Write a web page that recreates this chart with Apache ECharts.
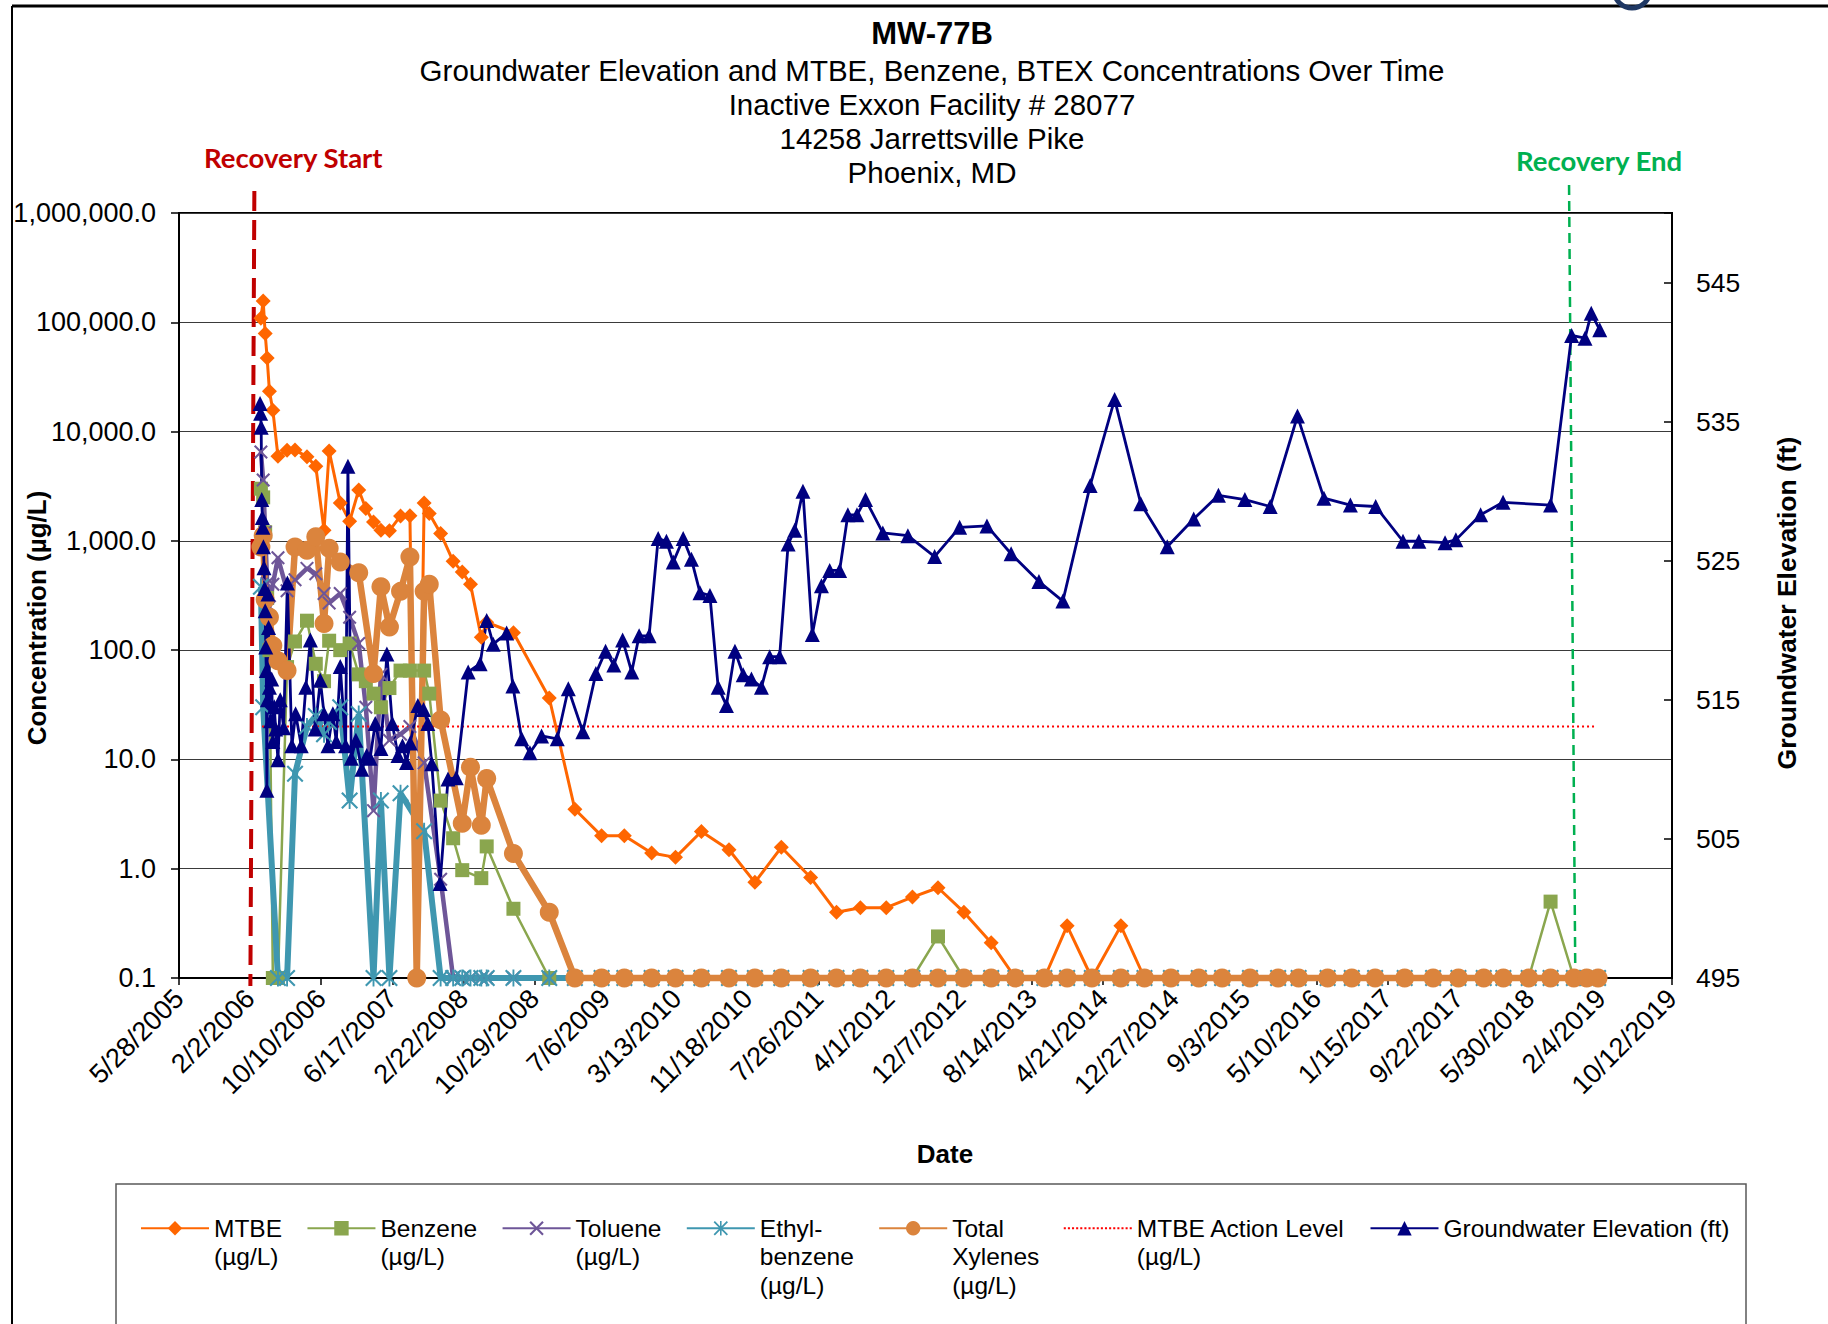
<!DOCTYPE html>
<html>
<head>
<meta charset="utf-8">
<title>MW-77B</title>
<script src="https://cdn.jsdelivr.net/npm/echarts@6/dist/echarts.min.js"></script>
<style>
html,body{margin:0;padding:0;background:#ffffff;}
#chart{width:1828px;height:1324px;}
</style>
</head>
<body>
<div id="chart"></div>
<script>
// ---------------- DATA (x values are Excel date serials) ----------------
const sampleDates = [
  38788, 38796, 38803, 38810, 38818, 38830, 38848, 38880, 38908, 38950,
  38981, 39010, 39028, 39067, 39100, 39132, 39157, 39184, 39210, 39240,
  39279, 39312, 39336, 39362, 39380, 39420, 39464, 39496, 39525, 39563,
  39582,
  39676, 39802, 39892, 39986, 40066, 40162, 40246, 40337, 40434, 40525,
  40618, 40721, 40812, 40896, 40987, 41079, 41169, 41260, 41356, 41441,
  41543, 41623, 41710, 41812, 41895, 41988, 42086, 42168, 42266, 42365,
  42437, 42539, 42624, 42706, 42810, 42910, 42999, 43088, 43157, 43246,
  43323, 43405, 43450, 43490
];
const mtbe = [
  109000, 157000, 79000, 47000, 23400, 15700, 5940, 6750, 6800, 5870,
  4820, 1250, 6640, 2220, 1510, 2920, 1980, 1490, 1250, 1240,
  1690, 1700, 0.1, 2220, 1780, 1170, 650, 520, 400, 131,
  180,
  144, 36.5, 3.5, 2.0, 2.0, 1.39, 1.27, 2.19, 1.49, 0.75,
  1.57, 0.83, 0.40, 0.44, 0.44, 0.55, 0.67, 0.40, 0.21, 0.1,
  0.1, 0.3, 0.1, 0.3, 0.1, 0.1, 0.1, 0.1, 0.1, 0.1,
  0.1, 0.1, 0.1, 0.1, 0.1, 0.1, 0.1, 0.1, 0.1, 0.1,
  0.1, 0.1, 0.1, 0.1
];
const benzene = [
  3000, 2500, 1200, 300, 100, 0.1, 0.1, 70, 120, 186,
  75, 52, 122, 100, 115, 60, 52, 40, 30, 45,
  65, 65, null, 65, 40, 4.2, 1.9, 0.97, null, 0.82,
  1.6,
  0.43, 0.1, 0.1, 0.1, 0.1, 0.1, 0.1, 0.1, 0.1, 0.1,
  0.1, 0.1, 0.1, 0.1, 0.1, 0.1, 0.24, 0.1, 0.1, 0.1,
  0.1, 0.1, 0.1, 0.1, 0.1, 0.1, 0.1, 0.1, 0.1, 0.1,
  0.1, 0.1, 0.1, 0.1, 0.1, 0.1, 0.1, 0.1, 0.1, 0.1,
  0.5, 0.1, 0.1, 0.1
];
const toluene = [
  6500, 3600, 1200, 410, 250, 400, 700, 350, 440, 560,
  500, 330, 270, 330, 200, 115, 30, 3.4, 60, 15,
  17, 20, null, 9.3, null, 0.8, 0.1, 0.1, 0.1, 0.1,
  0.1,
  0.1, 0.1, 0.1, 0.1, 0.1, 0.1, 0.1, 0.1, 0.1, 0.1,
  0.1, 0.1, 0.1, 0.1, 0.1, 0.1, 0.1, 0.1, 0.1, 0.1,
  0.1, 0.1, 0.1, 0.1, 0.1, 0.1, 0.1, 0.1, 0.1, 0.1,
  0.1, 0.1, 0.1, 0.1, 0.1, 0.1, 0.1, 0.1, 0.1, 0.1,
  0.1, 0.1, 0.1, 0.1
];
const ethylbenzene = [
  380, 30, null, null, null, null, 0.1, 0.1, 7.4, 20,
  25, 17, 22, 30, 4.2, 26, null, 0.1, 4.2, 0.1,
  4.9, null, null, 2.2, null, 0.1, 0.1, 0.1, 0.1, 0.1,
  0.1,
  0.1, 0.1, 0.1, 0.1, 0.1, 0.1, 0.1, 0.1, 0.1, 0.1,
  0.1, 0.1, 0.1, 0.1, 0.1, 0.1, 0.1, 0.1, 0.1, 0.1,
  0.1, 0.1, 0.1, 0.1, 0.1, 0.1, 0.1, 0.1, 0.1, 0.1,
  0.1, 0.1, 0.1, 0.1, 0.1, 0.1, 0.1, 0.1, 0.1, 0.1,
  0.1, 0.1, 0.1, 0.1
];
const totalXylenes = [
  880, 1120, 290, null, 200, 110, 80, 65, 880, 820,
  1090, 175, 855, 640, null, 510, null, 61, 380, 163,
  345, 713, 0.1, 345, 400, 23, null, 2.6, 8.5, 2.5,
  6.7,
  1.38, 0.40, 0.1, 0.1, 0.1, 0.1, 0.1, 0.1, 0.1, 0.1,
  0.1, 0.1, 0.1, 0.1, 0.1, 0.1, 0.1, 0.1, 0.1, 0.1,
  0.1, 0.1, 0.1, 0.1, 0.1, 0.1, 0.1, 0.1, 0.1, 0.1,
  0.1, 0.1, 0.1, 0.1, 0.1, 0.1, 0.1, 0.1, 0.1, 0.1,
  0.1, 0.1, 0.1, 0.1
];
const gwDates = [
  38785, 38787, 38789, 38791, 38793, 38795, 38797, 38799, 38801, 38803,
  38805, 38807, 38809, 38811, 38813, 38815, 38818, 38822, 38826, 38830,
  38835, 38840, 38848, 38856, 38868, 38881, 38897, 38910, 38930, 38946,
  38962, 38979, 38997, 39010, 39024, 39041, 39053, 39067, 39086, 39094,
  39106, 39122, 39143, 39160, 39172, 39190, 39210, 39231, 39250, 39270,
  39286, 39300, 39313, 39340, 39360, 39375, 39389, 39418, 39446, 39475,
  39517, 39559, 39582, 39605, 39652, 39674, 39705, 39734, 39775, 39830,
  39869, 39920, 39966, 40000, 40029, 40060, 40092, 40118, 40153, 40185,
  40214, 40238, 40273, 40302, 40332, 40367, 40396, 40425, 40455, 40484,
  40513, 40548, 40577, 40612, 40642, 40665, 40694, 40727, 40759, 40788,
  40823, 40852, 40884, 40914, 40975, 41063, 41157, 41245, 41341, 41426,
  41524, 41608, 41704, 41790, 41882, 41975, 42068, 42155, 42248, 42337,
  42433, 42526, 42619, 42708, 42804, 42860, 42952, 42990, 43077, 43156,
  43323, 43397, 43444, 43466, 43496
];
const gwElevation = [
  536.3, 535.6, 534.6, 529.4, 528.1, 527.4, 526.0, 524.5, 523.0, 521.4,
  518.8, 517.1, 508.5, 515.0, 522.6, 520.2, 515.9, 513.5, 516.5, 512.0,
  514.5, 512.9, 510.7, 515.0, 513.0, 523.4, 511.7, 514.0, 511.7, 515.9,
  519.3, 512.9, 516.4, 514.0, 511.7, 514.0, 512.0, 517.4, 511.7, 531.8,
  510.8, 512.1, 510.0, 511.0, 510.8, 513.3, 511.5, 518.3, 513.3, 511.0,
  511.7, 510.5, 511.9, 514.6, 514.3, 513.3, 510.4, 501.8, 509.3, 509.4,
  517.0, 517.6, 520.7, 519.0, 519.8, 516.0, 512.2, 511.2, 512.4, 512.2,
  515.8, 512.7, 516.9, 518.5, 517.5, 519.3, 517.0, 519.6, 519.6, 526.6,
  526.4, 524.9, 526.6, 525.1, 522.7, 522.5, 515.9, 514.6, 518.5, 516.8,
  516.5, 515.9, 518.1, 518.1, 526.2, 527.2, 530.0, 519.7, 523.2, 524.3,
  524.3, 528.3, 528.3, 529.4, 527.0, 526.8, 525.3, 527.4, 527.5, 525.5,
  523.5, 522.1, 530.4, 536.6, 529.1, 526.0, 528.0, 529.7, 529.4, 528.9,
  535.4, 529.5, 529.0, 528.9, 526.4, 526.4, 526.3, 526.5, 528.3, 529.2,
  529.0, 541.2, 541.0, 542.8, 541.6
];
const actionLevelDates = [38792, 43481];
const actionLevel = [20, 20];
const recoveryStartDates = [38765, 38751];   // top, bottom of the drawn marker line
const recoveryEndDates = [43388, 43410];
const xAxisMin = 38500, xAxisMax = 43750, xAxisStep = 250;   // 5/28/2005 .. 10/12/2019
const concMin = 0.1, concMax = 1000000;
const elevMin = 495, elevMax = 550, elevStep = 10;
const seriesNames = ['MTBE (µg/L)', 'Benzene (µg/L)', 'Toluene (µg/L)', 'Ethyl-benzene (µg/L)',
  'Total Xylenes (µg/L)', 'MTBE Action Level (µg/L)', 'Groundwater Elevation (ft)'];
const legendLines = [['MTBE', '(µg/L)'], ['Benzene', '(µg/L)'], ['Toluene', '(µg/L)'], ['Ethyl-', 'benzene', '(µg/L)'],
  ['Total', 'Xylenes', '(µg/L)'], ['MTBE Action Level', '(µg/L)'], ['Groundwater Elevation (ft)']];
const titleLines = ['Groundwater Elevation and MTBE, Benzene, BTEX Concentrations Over Time',
  'Inactive Exxon Facility # 28077', '14258 Jarrettsville Pike', 'Phoenix, MD'];

// ---------------- helpers ----------------
const FONT = '"Liberation Sans", Arial, Helvetica, sans-serif';
function serialToLabel(s) {
  const d = new Date(Date.UTC(1899, 11, 30) + Math.round(s) * 86400000);
  return (d.getUTCMonth() + 1) + '/' + d.getUTCDate() + '/' + d.getUTCFullYear();
}
function fmtConc(v) {
  const r = Math.round(v * 10) / 10;
  const parts = r.toFixed(1).split('.');
  parts[0] = parts[0].replace(/\B(?=(\d{3})+(?!\d))/g, ',');
  return parts.join('.');
}
function toPairs(dates, vals) {
  return dates.map((d, i) => [d, (vals[i] === null || vals[i] === undefined) ? '-' : vals[i]]);
}
const xPath = 'path://M2.12 0L10 7.88L17.88 0L20 2.12L12.12 10L20 17.88L17.88 20L10 12.12L2.12 20L0 17.88L7.88 10L0 2.12Z';
const starPath = 'path://M8.9 0H11.1V20H8.9Z M1.77 0L10 8.23L18.23 0L20 1.77L11.77 10L20 18.23L18.23 20L10 11.77L1.77 20L0 18.23L8.23 10L0 1.77Z';
let dotted = 'path://';
for (let i = 0; i < 68; i += 4) dotted += 'M' + i + ' 0h2v2h-2z';

// Legend text: 3 content lines, preceded by 2 blank lines so the first line sits level with the icon
const legendText = {};
seriesNames.forEach((n, i) => {
  const lines = legendLines[i].slice();
  while (lines.length < 3) lines.push(' ');
  legendText[n] = [' ', ' '].concat(lines).join('\n');
});

function lineSeries(idx, dates, vals, color, width, symbol, size, yAxisIndex) {
  return {
    name: seriesNames[idx], type: 'line', yAxisIndex: yAxisIndex || 0,
    data: toPairs(dates, vals), connectNulls: true, clip: false,
    symbol: symbol, symbolSize: size, showSymbol: symbol !== 'none',
    itemStyle: { color: color, borderWidth: 0 },
    lineStyle: { color: color, width: width },
    emphasis: { disabled: true }, silent: true
  };
}

const chart = echarts.init(document.getElementById('chart'), null, { renderer: 'svg', width: 1828, height: 1324 });

const option = {
  backgroundColor: '#ffffff',
  animation: false,
  grid: { left: 179, right: 156, top: 213, bottom: 346, show: true, borderColor: '#000', borderWidth: 2,
          backgroundColor: 'transparent', containLabel: false, outerBoundsMode: 'none' },
  xAxis: {
    type: 'value', min: xAxisMin, max: xAxisMax, interval: xAxisStep,
    axisLine: { show: true, onZero: false, lineStyle: { color: '#000', width: 2 } },
    axisTick: { show: true, inside: false, length: 7, lineStyle: { color: '#000', width: 1.5 } },
    splitLine: { show: false },
    axisLabel: { rotate: 45, margin: 16, fontSize: 27, fontFamily: FONT, color: '#000',
                 formatter: serialToLabel, showMinLabel: true, showMaxLabel: true, hideOverlap: false }
  },
  yAxis: [
    {
      type: 'log', logBase: 10, min: concMin, max: concMax, splitNumber: 7, position: 'left',
      axisLine: { show: true, lineStyle: { color: '#000', width: 2 } },
      axisTick: { show: true, inside: false, length: 8, lineStyle: { color: '#000', width: 1.5 } },
      splitLine: { show: true, lineStyle: { color: '#3a3a3a', width: 1.2 } },
      minorTick: { show: false }, minorSplitLine: { show: false },
      axisLabel: { margin: 23, fontSize: 27, fontFamily: FONT, color: '#000', formatter: fmtConc }
    },
    {
      type: 'value', min: elevMin, max: elevMax, interval: elevStep, position: 'right',
      axisLine: { show: true, lineStyle: { color: '#000', width: 2 } },
      axisTick: { show: true, inside: true, length: 8, lineStyle: { color: '#000', width: 1.5 } },
      splitLine: { show: false },
      axisLabel: { margin: 24, fontSize: 26.5, fontFamily: FONT, color: '#000',
                   formatter: v => (v > elevMax - 1 ? '' : String(Math.round(v))) }
    }
  ],
  legend: {
    show: true, orient: 'horizontal', left: 140, top: 1157, padding: 0, itemGap: 24.4,
    itemWidth: 68, itemHeight: 18, selectedMode: false,
    textStyle: { fontFamily: FONT, fontSize: 24.5, lineHeight: 28.5, color: '#000' },
    formatter: name => legendText[name],
    data: seriesNames.map((n, i) => i === 5 ? { name: n, icon: dotted, symbolKeepAspect: true } : { name: n })
  },
  series: [
    lineSeries(0, sampleDates, mtbe, '#FF6600', 3, 'diamond', 15),
    lineSeries(1, sampleDates, benzene, '#8AA64E', 2.5, 'rect', 14),
    lineSeries(2, sampleDates, toluene, '#6E5698', 4.5, xPath, 14),
    lineSeries(3, sampleDates, ethylbenzene, '#3F97B0', 6, starPath, 17),
    lineSeries(4, sampleDates, totalXylenes, '#DB843D', 6.5, 'circle', 19),
    Object.assign(lineSeries(5, actionLevelDates, actionLevel, '#FF0000', 2, 'none', 0),
                  { lineStyle: { color: '#FF0000', width: 2, type: [2, 3] } }),
    lineSeries(6, gwDates, gwElevation, '#000080', 2.8, 'triangle', 15, 1)
  ]
};
chart.setOption(option);

function txt(id, t, x, y, font, color, rot) {
  return { id: id, type: 'text', x: x, y: y, rotation: rot || 0, silent: true,
    style: { text: t, font: font, fill: color || '#000', align: 'center', verticalAlign: 'middle',
             textAlign: 'center', textVerticalAlign: 'middle' } };
}
const px = v => chart.convertToPixel({ xAxisIndex: 0 }, v);
const gridTop = 213, gridBottom = 1324 - 346;
const rsTop = px(recoveryStartDates[0]), rsBot = px(recoveryStartDates[1]);
const reTop = px(recoveryEndDates[0]), reBot = px(recoveryEndDates[1]);
const LABEL_FONT = 'bold 27.5px Lato, "Open Sans", sans-serif';

const graphics = [
  { id: 'frameTop', type: 'line', silent: true, shape: { x1: 12, y1: 6, x2: 1828, y2: 6 }, style: { stroke: '#000', lineWidth: 3 } },
  { id: 'frameLeft', type: 'line', silent: true, shape: { x1: 12, y1: 6, x2: 12, y2: 1324 }, style: { stroke: '#000', lineWidth: 2 } },
  { id: 'logoArc', type: 'arc', silent: true, shape: { cx: 1632, cy: -10, r: 18, startAngle: 0.15, endAngle: Math.PI - 0.15 },
    style: { fill: 'none', stroke: '#1F3864', lineWidth: 5 } },
  { id: 'legendBox', type: 'rect', silent: true, shape: { x: 116, y: 1184, width: 1630, height: 170 },
    style: { fill: 'none', stroke: '#595959', lineWidth: 1.5 } },
  txt('t0', 'MW-77B', 932, 33, 'bold 31px ' + FONT),
  txt('t1', titleLines[0], 932, 70, '29.5px ' + FONT),
  txt('t2', titleLines[1], 932, 104, '29.5px ' + FONT),
  txt('t3', titleLines[2], 932, 138, '29.5px ' + FONT),
  txt('t4', titleLines[3], 932, 172, '29.5px ' + FONT),
  txt('yName', 'Concentration (µg/L)', 37, 618, 'bold 26px ' + FONT, '#000', Math.PI / 2),
  txt('y2Name', 'Groundwater Elevation (ft)', 1787, 603, 'bold 26.5px ' + FONT, '#000', Math.PI / 2),
  txt('xName', 'Date', 945, 1154, 'bold 26px ' + FONT),
  { id: 'recStart', type: 'line', silent: true, z: 1,
    shape: { x1: rsTop, y1: gridTop - 22, x2: rsBot, y2: gridBottom + 8 },
    style: { stroke: '#C00000', lineWidth: 4, lineDash: [20, 9] } },
  { id: 'recEnd', type: 'line', silent: true, z: 1,
    shape: { x1: reTop, y1: gridTop - 28, x2: reBot, y2: gridBottom - 2 },
    style: { stroke: '#00B050', lineWidth: 2.5, lineDash: [10, 6] } },
  txt('recStartLbl', 'Recovery Start', rsTop + 39, 157, LABEL_FONT, '#C00000'),
  txt('recEndLbl', 'Recovery End', reTop + 30, 160, LABEL_FONT, '#00B050')
];
chart.setOption({ graphic: { elements: graphics } });
</script>
</body>
</html>
